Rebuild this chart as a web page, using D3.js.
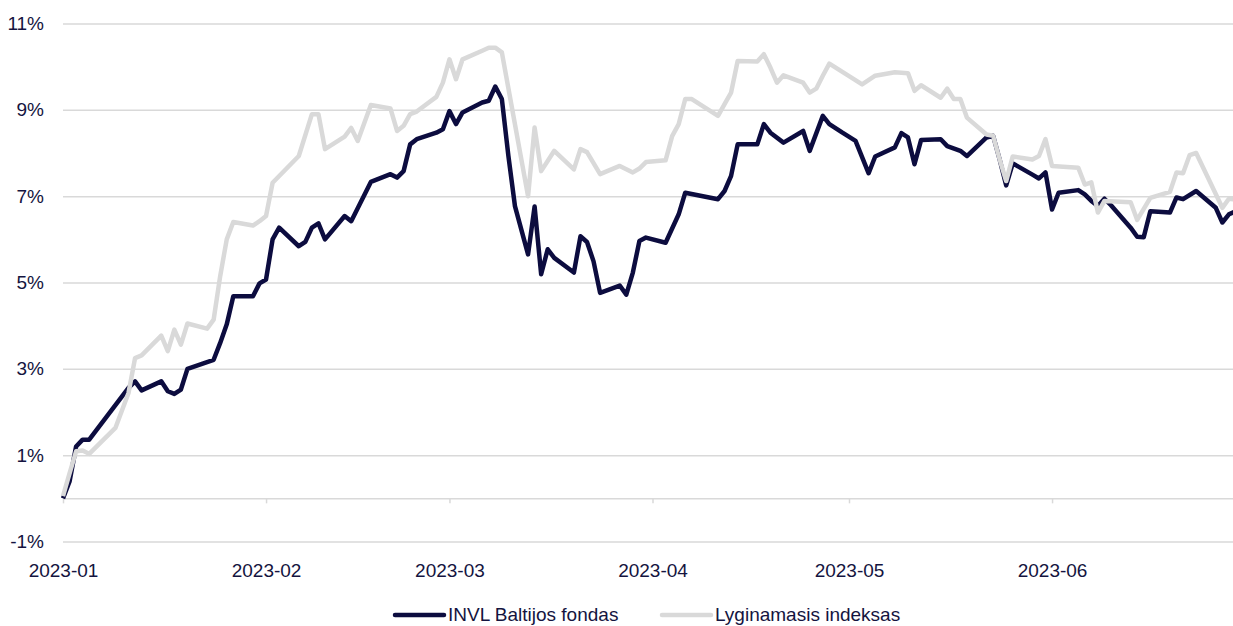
<!DOCTYPE html>
<html>
<head>
<meta charset="utf-8">
<script src="https://cdn.jsdelivr.net/npm/d3@7"></script>
<style>
  body { margin: 0; background: #fff; }
  svg { display: block; font-family: "Liberation Sans", Arial, sans-serif; }
</style>
</head>
<body>
<svg id="chart"></svg>
<script>
// fund (INVL Baltijos fondas), cumulative return in %
const fundDates = [
  '2023-01-01','2023-01-02','2023-01-03','2023-01-04','2023-01-05','2023-01-11','2023-01-12','2023-01-13',
  '2023-01-16','2023-01-17','2023-01-18','2023-01-19','2023-01-20','2023-01-24','2023-01-25','2023-01-26',
  '2023-01-27','2023-01-30','2023-01-31',
  '2023-02-01','2023-02-02','2023-02-03','2023-02-06','2023-02-07','2023-02-08','2023-02-09','2023-02-10',
  '2023-02-13','2023-02-14','2023-02-17','2023-02-20','2023-02-21','2023-02-22','2023-02-23','2023-02-24',
  '2023-02-27','2023-02-28',
  '2023-03-01','2023-03-02','2023-03-03','2023-03-06','2023-03-07','2023-03-08','2023-03-09','2023-03-10',
  '2023-03-11','2023-03-13','2023-03-14','2023-03-15','2023-03-16','2023-03-17','2023-03-20','2023-03-21',
  '2023-03-22','2023-03-23','2023-03-24','2023-03-27','2023-03-28','2023-03-29','2023-03-30','2023-03-31',
  '2023-04-03','2023-04-05','2023-04-06','2023-04-11','2023-04-12','2023-04-13','2023-04-14','2023-04-17',
  '2023-04-18','2023-04-19','2023-04-21','2023-04-24','2023-04-25','2023-04-27','2023-04-28','2023-04-30',
  '2023-05-02','2023-05-04','2023-05-05','2023-05-08','2023-05-09','2023-05-10','2023-05-11','2023-05-12',
  '2023-05-15','2023-05-16','2023-05-18','2023-05-19','2023-05-22','2023-05-23','2023-05-24','2023-05-25',
  '2023-05-26','2023-05-29','2023-05-30','2023-05-31',
  '2023-06-01','2023-06-02','2023-06-05','2023-06-06','2023-06-07','2023-06-08','2023-06-09','2023-06-10',
  '2023-06-13','2023-06-14','2023-06-15','2023-06-16','2023-06-19','2023-06-20','2023-06-21','2023-06-23',
  '2023-06-26','2023-06-27','2023-06-28','2023-06-29'
];
const fundValues = [
  0, 0.39, 1.2, 1.36, 1.36, 2.56, 2.71, 2.5,
  2.71, 2.48, 2.42, 2.52, 3.0, 3.21, 3.6, 4.03,
  4.68, 4.68, 4.98,
  5.07, 6.0, 6.27, 5.84, 5.94, 6.27, 6.37, 6.0,
  6.54, 6.42, 7.33, 7.51, 7.43, 7.58, 8.2, 8.32,
  8.47, 8.55,
  8.97, 8.67, 8.94, 9.17, 9.21, 9.54, 9.25, 7.93,
  6.77, 5.65, 6.76, 5.19, 5.77, 5.57, 5.23, 6.07,
  5.94, 5.49, 4.76, 4.93, 4.72, 5.23, 5.96, 6.04,
  5.92, 6.58, 7.08, 6.93, 7.12, 7.47, 8.2, 8.2,
  8.67, 8.47, 8.24, 8.51, 8.05, 8.86, 8.67, 8.47,
  8.28, 7.53, 7.92, 8.13, 8.46, 8.36, 7.74, 8.30,
  8.32, 8.16, 8.05, 7.93, 8.36, 8.40, 7.85, 7.25,
  7.76, 7.5, 7.41, 7.55,
  6.69, 7.08, 7.14, 7.04, 6.89, 6.77, 6.94, 6.79,
  6.27, 6.06, 6.05, 6.65, 6.62, 6.97, 6.93, 7.12,
  6.73, 6.39, 6.58, 6.65
];

// benchmark (Lyginamasis indeksas), cumulative return in %
const indexDates = [
  '2023-01-01','2023-01-02','2023-01-03','2023-01-04','2023-01-05','2023-01-09','2023-01-11','2023-01-12',
  '2023-01-13','2023-01-16','2023-01-17','2023-01-18','2023-01-19','2023-01-20','2023-01-23','2023-01-24',
  '2023-01-25','2023-01-26','2023-01-27','2023-01-30','2023-01-31',
  '2023-02-01','2023-02-02','2023-02-06','2023-02-08','2023-02-09','2023-02-10','2023-02-13','2023-02-14',
  '2023-02-15','2023-02-17','2023-02-20','2023-02-21','2023-02-22','2023-02-23','2023-02-24','2023-02-27',
  '2023-02-28',
  '2023-03-01','2023-03-02','2023-03-03','2023-03-06','2023-03-07','2023-03-08','2023-03-09','2023-03-13',
  '2023-03-14','2023-03-15','2023-03-17','2023-03-20','2023-03-21','2023-03-22','2023-03-24','2023-03-27',
  '2023-03-29','2023-03-30','2023-03-31',
  '2023-04-03','2023-04-04','2023-04-05','2023-04-06','2023-04-07','2023-04-11','2023-04-12','2023-04-13',
  '2023-04-14','2023-04-17','2023-04-18','2023-04-19','2023-04-20','2023-04-21','2023-04-24','2023-04-25',
  '2023-04-26','2023-04-27','2023-04-28',
  '2023-05-03','2023-05-05','2023-05-08','2023-05-10','2023-05-11','2023-05-12','2023-05-15','2023-05-16',
  '2023-05-17','2023-05-18','2023-05-19','2023-05-22','2023-05-23','2023-05-24','2023-05-25','2023-05-26',
  '2023-05-29','2023-05-30','2023-05-31',
  '2023-06-01','2023-06-05','2023-06-06','2023-06-07','2023-06-08','2023-06-09','2023-06-13','2023-06-14',
  '2023-06-16','2023-06-19','2023-06-20','2023-06-21','2023-06-22','2023-06-23','2023-06-27','2023-06-28',
  '2023-06-29'
];
const indexValues = [
  0.05, 0.58, 1.09, 1.11, 1.03, 1.63, 2.44, 3.25,
  3.31, 3.77, 3.41, 3.91, 3.56, 4.05, 3.93, 4.14,
  5.15, 6.0, 6.40, 6.32, 6.42,
  6.54, 7.31, 7.93, 8.90, 8.90, 8.09, 8.38, 8.58,
  8.28, 9.11, 9.03, 8.51, 8.63, 8.90, 8.96, 9.30,
  9.63,
  10.17, 9.71, 10.17, 10.37, 10.44, 10.44, 10.33, 7.0,
  8.59, 7.58, 8.05, 7.62, 8.09, 8.02, 7.51, 7.70,
  7.55, 7.64, 7.79,
  7.83, 8.39, 8.67, 9.25, 9.25, 8.86, 9.13, 9.40,
  10.13, 10.12, 10.29, 9.98, 9.63, 9.80, 9.63, 9.40,
  9.49, 9.79, 10.07,
  9.59, 9.79, 9.87, 9.85, 9.44, 9.57, 9.28, 9.49,
  9.25, 9.25, 8.82, 8.43, 8.40, 7.85, 7.35, 7.92,
  7.85, 7.93, 8.32,
  7.70, 7.66, 7.27, 7.32, 6.62, 6.89, 6.86, 6.45,
  6.96, 7.10, 7.55, 7.53, 7.95, 8.0, 6.73, 6.94,
  6.92
];

const yTicks = [-1, 1, 3, 5, 7, 9, 11];
const seriesNames = ['INVL Baltijos fondas', 'Lyginamasis indeksas'];

const W = 1233, H = 626;
const left = 63;
const parse = d3.timeParse('%Y-%m-%d');
const navy = '#0c0c3f', grey = '#d9d9d9', textCol = '#141440';

const svg = d3.select('#chart').attr('width', W).attr('height', H);

const x = d3.scaleTime()
  .domain([parse('2023-01-01'), parse('2023-06-30')])
  .range([left, left + 180 * 6.55]);
const y = d3.scaleLinear().domain([-1, 11]).range([541.5, 23.5]);

// horizontal grid + y labels
const yAxis = d3.axisLeft(y)
  .tickValues(yTicks)
  .tickSize(-(W - left))
  .tickPadding(19)
  .tickFormat(d => d + '%');
const gy = svg.append('g').attr('transform', `translate(${left},0)`).call(yAxis);
gy.select('.domain').remove();
gy.selectAll('line').attr('stroke', grey).attr('stroke-width', 1.5);
gy.selectAll('text').attr('fill', textCol).style('font-size', '19px');

// zero line with month ticks
const xAxis = d3.axisBottom(x)
  .ticks(d3.timeMonth.every(1))
  .tickSize(5)
  .tickSizeOuter(0)
  .tickPadding(60)
  .tickFormat(d3.timeFormat('%Y-%m'));
const gx = svg.append('g').attr('transform', `translate(0,${y(0)})`).call(xAxis);
gx.select('.domain').attr('stroke', grey).attr('stroke-width', 1.5);
gx.selectAll('line').attr('stroke', grey).attr('stroke-width', 1.5);
gx.selectAll('text').attr('fill', textCol).style('font-size', '19px');

const line = d3.line()
  .x(d => x(d.date))
  .y(d => y(d.value));

const fund = fundDates.map((d, i) => ({ date: parse(d), value: fundValues[i] }));
const bench = indexDates.map((d, i) => ({ date: parse(d), value: indexValues[i] }));

svg.append('path')
  .datum(fund)
  .attr('fill', 'none')
  .attr('stroke', navy)
  .attr('stroke-width', 4.5)
  .attr('stroke-linejoin', 'round')
  .attr('d', line);

svg.append('path')
  .datum(bench)
  .attr('fill', 'none')
  .attr('stroke', grey)
  .attr('stroke-width', 4.5)
  .attr('stroke-linejoin', 'round')
  .attr('d', line);

// legend (kept just inside the bottom edge)
const legend = svg.append('g').attr('transform', 'translate(395,615)');
const legItems = [
  { name: seriesNames[0], color: navy, x: 0 },
  { name: seriesNames[1], color: grey, x: 267 }
];
legItems.forEach(it => {
  legend.append('line')
    .attr('x1', it.x).attr('x2', it.x + 49)
    .attr('y1', 0).attr('y2', 0)
    .attr('stroke', it.color)
    .attr('stroke-width', 4.5)
    .attr('stroke-linecap', 'round');
  legend.append('text')
    .attr('x', it.x + 53)
    .attr('y', 6)
    .attr('fill', textCol)
    .style('font-size', '19px')
    .text(it.name);
});
</script>
</body>
</html>
